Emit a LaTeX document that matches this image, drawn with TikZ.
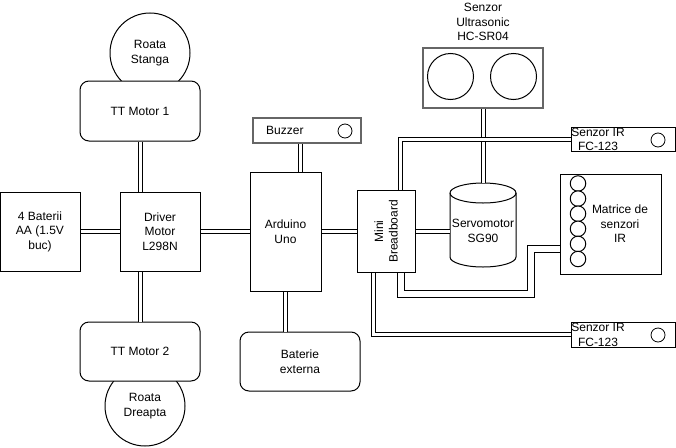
\documentclass[tikz,border=0pt]{standalone}
\usepackage{fontspec}
\setmainfont{Liberation Sans}
\begin{document}
\begin{tikzpicture}[x=1pt,y=-1pt,
  every node/.style={font=\fontsize{12}{14.5}\selectfont, align=center, inner sep=0pt},
  box/.style={draw, fill=white, line width=1pt},
  rbox/.style={box, rounded corners=9pt},
  gbox/.style={draw=black!60, fill=white, line width=1.6pt},
  wheel/.style={draw, fill=white, circle, line width=1pt},
  dot/.style={draw, fill=white, circle, line width=0.8pt},
  link/.style={draw, double, double distance=3pt, line width=1pt},
  wlink/.style={draw, double, double distance=6pt, line width=1pt}]
\useasboundingbox (0,0) rectangle (676,447);

% wheels
\node[wheel, minimum size=80pt] (stanga) at (150,53) {Roata\\Stanga};
\node[wheel, minimum size=80pt] (dreapta) at (145,406) {Roata\\Dreapta};

% left part
\node[rbox, minimum width=120pt, minimum height=60pt] (motor1) at (140,111) {TT Motor 1};
\node[rbox, minimum width=120pt, minimum height=59pt] (motor2) at (140,351.5) {TT Motor 2};
\node[box, minimum width=80pt, minimum height=79pt] (driver) at (160,231.5) {Driver\\Motor\\L298N};
\node[box, minimum width=80pt, minimum height=79pt] (baterii) at (40,231.5) {4 Baterii\\AA (1.5V\\buc)};

% arduino group
\node[gbox, minimum width=108pt, minimum height=25pt] (buzzer) at (307,130.5) {};
\node[anchor=west] (buzzertxt) at (266,130.5) {Buzzer};
\node[dot, minimum size=14pt] (buzzerdot) at (345,131) {};
\node[box, minimum width=71pt, minimum height=119pt] (arduino) at (285.5,231.5) {Arduino\\Uno};
\node[rbox, minimum width=120pt, minimum height=59pt] (bext) at (300,361.5) {Baterie\\externa};

% breadboard
\node[box, minimum width=58pt, minimum height=82pt] (bb) at (386,231.5) {};
\node[rotate=90] (bbtxt) at (386,231.5) {Mini\\Breadboard};

% ultrasonic
\node (ultratxt) at (483,22) {Senzor\\Ultrasonic\\HC-SR04};
\node[gbox, minimum width=120pt, minimum height=60pt] (ultra) at (483,78) {};
\node[dot, line width=1pt, minimum size=46pt] (ultra1) at (450.5,76.5) {};
\node[dot, line width=1pt, minimum size=46pt] (ultra2) at (513.5,76.5) {};

% servo cylinder
\node[minimum width=66pt, minimum height=84pt] (servo) at (483,225) {};
\draw[line width=1pt, fill=white] (450,193) -- (450,257) arc[start angle=180, end angle=360, x radius=33, y radius=-10] -- (516,193) arc[start angle=0, end angle=180, x radius=33, y radius=-10] -- cycle;
\draw[line width=1pt] (450,193) arc[start angle=180, end angle=360, x radius=33, y radius=-10];
\node (servotxt) at (483,231) {Servomotor\\SG90};

% IR sensors
\node[box, minimum width=104.5pt, minimum height=24pt] (irtop) at (623.25,139.5) {};
\node (irtoptxt) at (598,139.5) {Senzor IR\\FC-123};
\node[dot, minimum size=14pt] (irtopdot) at (658,140) {};
\node[box, minimum width=104.5pt, minimum height=25pt] (irbot) at (623.25,334.5) {};
\node (irbottxt) at (598,335) {Senzor IR\\FC-123};
\node[dot, minimum size=14pt] (irbotdot) at (658,335) {};

% matrix
\node[box, minimum width=101pt, minimum height=100pt] (matrix) at (610.5,224) {};
\foreach \i in {0,...,5} {
  \node[dot, line width=1pt, minimum size=15.5pt] (mc\i) at (578,{183.5+15.1*\i}) {};
}
\node (matrixtxt) at (620,224) {Matrice de\\senzori\\IR};

% connectors
\draw[link] ([xshift=0.5pt]motor1.south) -- ([xshift=0.5pt]motor1.south |- driver.north);
\draw[link] ([xshift=0.5pt]motor2.north) -- ([xshift=0.5pt]motor2.north |- driver.south);
\draw[link] (baterii.east) -- (driver.west);
\draw[link] (driver.east) -- (arduino.west);
\draw[link] ([xshift=-6.5pt]buzzer.south) -- ([xshift=-6.5pt]buzzer.south |- arduino.north);
\draw[link] (arduino.south) -- (arduino.south |- bext.north);
\draw[link] (arduino.east) -- (bb.west);
\draw[link] (bb.east) -- (bb.east -| servo.west);
\draw[link] ([xshift=0.5pt]ultra.south) -- ([xshift=0.5pt]ultra.south |- servo.north);
\draw[link] (irtop.west) -| ([xshift=14.5pt]bb.north);
\draw[link] (irbot.west) -| ([xshift=-12.5pt]bb.south);
\coordinate (mbend) at (531,294);
\draw[wlink] ([yshift=-25pt]matrix.west) -| (mbend) -| ([xshift=15pt]bb.south);
\end{tikzpicture}
\end{document}
